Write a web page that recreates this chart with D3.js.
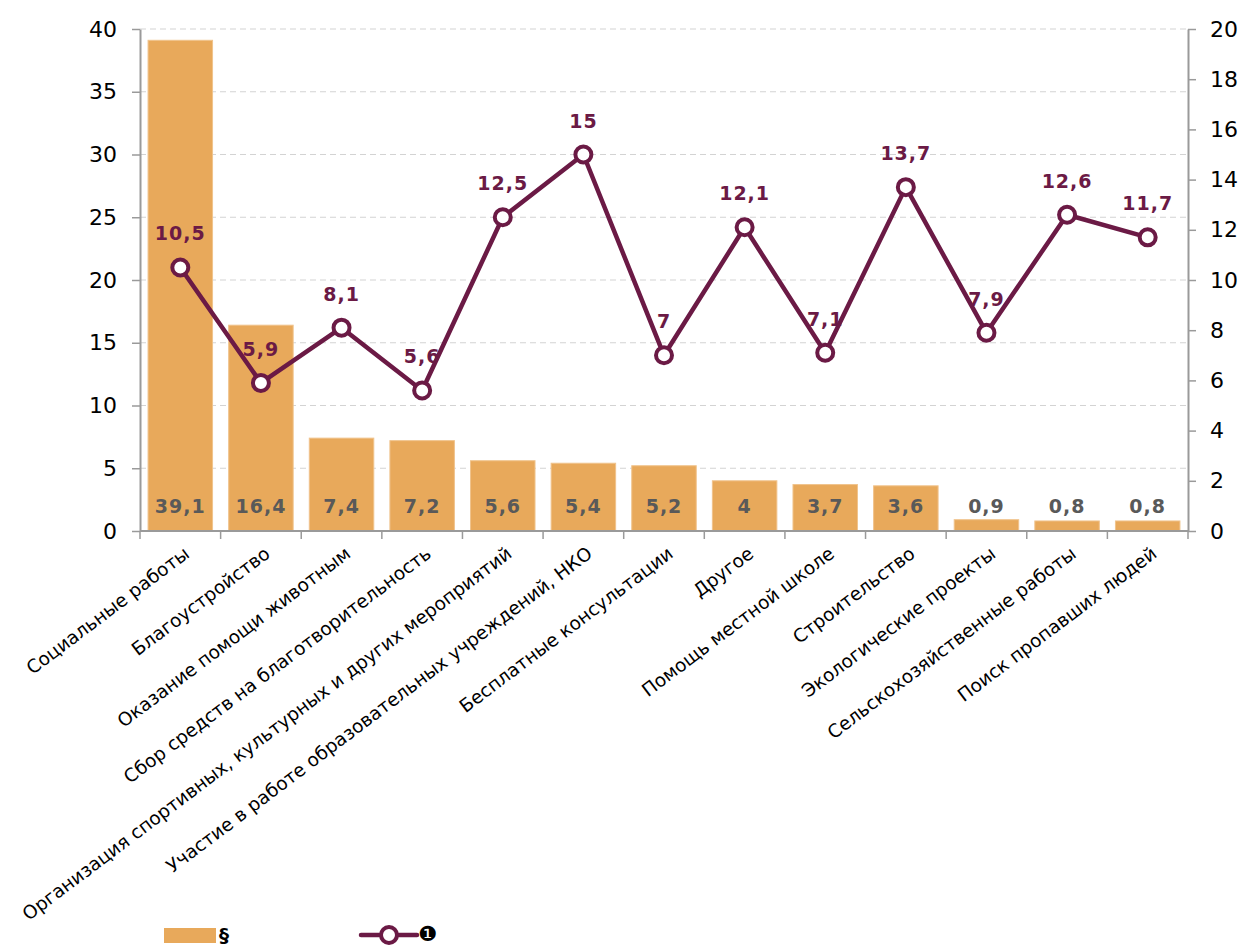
<!DOCTYPE html>
<html>
<head>
<meta charset="utf-8">
<script src="https://cdn.jsdelivr.net/npm/d3@7"></script>
<style>
  body { margin: 0; background: #fff; }
  text { font-family: "DejaVu Sans", sans-serif; }
</style>
</head>
<body>
<div id="chart"></div>
<script>
const width = 1245;
const height = 948;
const margin = { top: 29, right: 57, bottom: 417, left: 140 };

// Data
const categories = [
    "Социальные работы",
    "Благоустройство",
    "Оказание помощи животным",
    "Сбор средств на благотворительность",
    "Организация спортивных, культурных и других мероприятий",
    "Участие в работе образовательных учреждений, НКО",
    "Бесплатные консультации",
    "Другое",
    "Помощь местной школе",
    "Строительство",
    "Экологические проекты",
    "Сельскохозяйственные работы",
    "Поиск пропавших людей"
];
const barValues = [39.1, 16.4, 7.4, 7.2, 5.6, 5.4, 5.2, 4, 3.7, 3.6, 0.9, 0.8, 0.8];
const lineValues = [10.5, 5.9, 8.1, 5.6, 12.5, 15, 7, 12.1, 7.1, 13.7, 7.9, 12.6, 11.7];
const leftTicks = [0, 5, 10, 15, 20, 25, 30, 35, 40];
const rightTicks = [0, 2, 4, 6, 8, 10, 12, 14, 16, 18, 20];
const legendNames = ["§", "❶"];

const barColor = "#E8A95B";
const lineColor = "#6B1A45";
const fmt = v => String(v).replace(".", ",");

const svg = d3.select("#chart")
    .append("svg")
    .attr("width", width)
    .attr("height", height);

const x = d3.scaleBand()
    .domain(categories)
    .range([margin.left, width - margin.right])
    .paddingInner(0.2)
    .paddingOuter(0.1);

const yL = d3.scaleLinear().domain([0, 40]).range([height - margin.bottom, margin.top]);
const yR = d3.scaleLinear().domain([0, 20]).range([height - margin.bottom, margin.top]);

// Grid lines
svg.append("g")
    .selectAll("line")
    .data(leftTicks.filter(d => d > 0))
    .enter()
    .append("line")
    .attr("x1", margin.left)
    .attr("x2", width - margin.right)
    .attr("y1", d => yL(d))
    .attr("y2", d => yL(d))
    .attr("stroke", "#d3d3d3")
    .attr("stroke-width", 1.2)
    .attr("stroke-dasharray", "6,4");

// Bars
svg.append("g")
    .selectAll("rect")
    .data(barValues)
    .enter()
    .append("rect")
    .attr("x", (d, i) => x(categories[i]))
    .attr("width", x.bandwidth())
    .attr("y", d => yL(d))
    .attr("height", d => yL(0) - yL(d))
    .attr("fill", barColor)
    .attr("stroke", "#F0C38C")
    .attr("stroke-width", 1);

// Bar labels (fixed near the base)
svg.append("g")
    .selectAll("text")
    .data(barValues)
    .enter()
    .append("text")
    .attr("x", (d, i) => x(categories[i]) + x.bandwidth() / 2)
    .attr("y", yL(0) - 18)
    .attr("text-anchor", "middle")
    .attr("font-size", 19)
    .attr("font-weight", "bold")
    .attr("letter-spacing", 1)
    .attr("fill", "#595959")
    .text(d => fmt(d));

// Axes
const axisColor = "#9a9a9a";
const styleAxis = g => {
    g.select(".domain").attr("stroke", axisColor).attr("stroke-width", 2);
    g.selectAll(".tick line").attr("stroke", axisColor).attr("stroke-width", 1.5);
    g.selectAll(".tick text").attr("fill", "#000").attr("font-size", 22)
        .attr("font-family", "DejaVu Sans, sans-serif");
};

svg.append("g")
    .attr("transform", `translate(${margin.left},0)`)
    .call(d3.axisLeft(yL).tickValues(leftTicks).tickSizeInner(8).tickSizeOuter(0).tickPadding(15))
    .call(styleAxis);

svg.append("g")
    .attr("transform", `translate(${width - margin.right},0)`)
    .call(d3.axisRight(yR).tickValues(rightTicks).tickSizeInner(8).tickSizeOuter(0).tickPadding(14))
    .call(styleAxis);

// Bottom axis with ticks at band boundaries
const bottom = svg.append("g")
    .attr("transform", `translate(0,${yL(0)})`);
bottom.append("line")
    .attr("x1", margin.left).attr("x2", width - margin.right)
    .attr("stroke", axisColor).attr("stroke-width", 2);
bottom.selectAll("line.tk")
    .data(d3.range(categories.length + 1))
    .enter()
    .append("line")
    .attr("class", "tk")
    .attr("x1", i => margin.left + i * x.step())
    .attr("x2", i => margin.left + i * x.step())
    .attr("y1", 0).attr("y2", 8)
    .attr("stroke", axisColor).attr("stroke-width", 1.5);

bottom.selectAll("text")
    .data(categories)
    .enter()
    .append("text")
    .attr("transform", d => `translate(${x(d) + x.bandwidth() / 2 + 2},14) rotate(-37)`)
    .attr("text-anchor", "end")
    .attr("dy", "0.75em")
    .attr("font-size", 18.5)
    .attr("fill", "#000")
    .text(d => d);

// Line labels (under the line)
svg.append("g")
    .selectAll("text")
    .data(lineValues)
    .enter()
    .append("text")
    .attr("x", (d, i) => x(categories[i]) + x.bandwidth() / 2)
    .attr("y", d => yR(d) - 27)
    .attr("text-anchor", "middle")
    .attr("font-size", 19)
    .attr("font-weight", "bold")
    .attr("letter-spacing", 1)
    .attr("fill", lineColor)
    .text(d => fmt(d));

// Line
const line = d3.line()
    .x((d, i) => x(categories[i]) + x.bandwidth() / 2)
    .y(d => yR(d));

svg.append("path")
    .datum(lineValues)
    .attr("d", line)
    .attr("fill", "none")
    .attr("stroke", lineColor)
    .attr("stroke-width", 4.5)
    .attr("stroke-linejoin", "round");

svg.append("g")
    .selectAll("circle")
    .data(lineValues)
    .enter()
    .append("circle")
    .attr("cx", (d, i) => x(categories[i]) + x.bandwidth() / 2)
    .attr("cy", d => yR(d))
    .attr("r", 8)
    .attr("fill", "#fff")
    .attr("stroke", lineColor)
    .attr("stroke-width", 4);

// Legend
const legend = svg.append("g");
legend.append("rect")
    .attr("x", 164).attr("y", 928)
    .attr("width", 52).attr("height", 15)
    .attr("fill", barColor);
legend.append("text")
    .attr("x", 219).attr("y", 942)
    .attr("font-size", 20).attr("font-weight", "bold")
    .attr("fill", "#000")
    .text(legendNames[0]);

legend.append("line")
    .attr("x1", 361).attr("x2", 417)
    .attr("y1", 935).attr("y2", 935)
    .attr("stroke", lineColor).attr("stroke-width", 4.5)
    .attr("stroke-linecap", "round");
legend.append("circle")
    .attr("cx", 389).attr("cy", 935).attr("r", 8)
    .attr("fill", "#fff")
    .attr("stroke", lineColor).attr("stroke-width", 4);
legend.append("text")
    .attr("x", 418).attr("y", 941)
    .attr("font-size", 21)
    .attr("fill", "#000")
    .text(legendNames[1]);
</script>
</body>
</html>
